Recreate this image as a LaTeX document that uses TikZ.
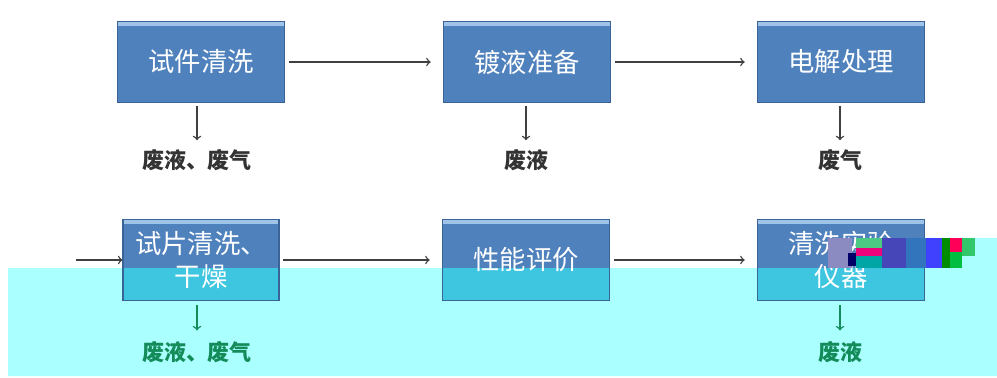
\documentclass[tikz,border=0pt]{standalone}
\usepackage{fontspec}
\newfontfamily\cjk{Noto Sans CJK SC}
\usetikzlibrary{positioning}

\definecolor{boxblue}{RGB}{79,129,189}
\definecolor{boxedge}{RGB}{58,100,151}
\definecolor{boxhigh}{RGB}{160,196,232}
\definecolor{bandcyan}{RGB}{170,255,255}
\definecolor{boxcyan}{RGB}{62,198,224}
\definecolor{wastegreen}{RGB}{20,140,90}
\definecolor{linegray}{RGB}{64,64,64}

\tikzset{
  stepbox/.style={draw=boxedge, fill=boxblue, text=white, line width=0.6pt,
    minimum width=3.34cm, minimum height=1.62cm, align=center,
    font=\cjk\fontsize{15}{19}\selectfont,
    path picture={\fill[boxhigh] (path picture bounding box.north west) rectangle ([yshift=-2.5pt]path picture bounding box.north east);}},
  lowbox/.style={stepbox,
    path picture={\fill[boxhigh] (path picture bounding box.north west) rectangle ([yshift=-2.5pt]path picture bounding box.north east);
      \fill[boxcyan] (path picture bounding box.south west) rectangle (path picture bounding box.east |- cut);}},
  waste/.style={font=\cjk\bfseries\fontsize{12.5}{15}\selectfont, text=black!80, inner sep=0pt},
  flow/.style={->, draw=linegray, line width=0.8pt}
}

\begin{document}
\begin{tikzpicture}[x=0.02cm, y=-0.02cm]
  \useasboundingbox (0,0) rectangle (997,378);
  % band over the lower row
  \fill[bandcyan] (8,268) -| (822,238) -| (997,376) -| cycle;
  \coordinate (cut) at (0,268);

  % upper row
  \node[stepbox] (t1) at (201,62) {试件清洗};
  \node[stepbox] (t2) at (527,62) {镀液准备};
  \node[stepbox] (t3) at (841,62) {电解处理};
  \node[waste] (w1) at (197,160) {废液、废气};
  \node[waste] (w2) at (526,160) {废液};
  \node[waste] (w3) at (840,160) {废气};

  % lower row
  \coordinate (in) at (74,260);
  \node[lowbox, minimum width=3.12cm] (b1) at (201,260) {试片清洗、\\干燥};
  \node[lowbox] (b2) at (526,260) {性能评价};
  \node[lowbox] (b3) at (841,260) {清洗实验\\仪器};
  \node[waste, text=wastegreen] (v1) at (197,352) {废液、废气};
  \node[waste, text=wastegreen] (v3) at (840,352) {废液};

  % damaged strip on the last box
  \foreach \xa/\ya/\xb/\yb/\col in {
      828/238/852/268/{blue!30!gray!70!white},
      848/253/856/266/{blue!40!black},
      856/238/882/248/{teal!60!green!70!white},
      856/248/882/256/{magenta!85!red},
      856/256/882/268/{teal!70!cyan},
      882/238/906/268/{blue!45!gray},
      906/238/926/268/{blue!35!teal!80!white},
      926/238/942/268/{blue!75!white},
      942/238/950/268/{green!55!black},
      950/238/962/252/{red!65!magenta},
      950/252/962/268/{green!50!teal},
      962/238/975/256/{teal!55!green!80!white},
      962/256/975/268/{bandcyan}}
    \fill[\col] (\xa,\ya) rectangle (\xb,\yb);

  % connectors
  \draw[flow, shorten <=2pt, shorten >=7pt] (t1) -- (t2);
  \draw[flow, shorten <=2pt, shorten >=7pt] (t2) -- (t3);
  \draw[flow, shorten <=1pt] (in) -- (b1);
  \draw[flow, shorten <=2pt, shorten >=7pt] (b1) -- (b2);
  \draw[flow, shorten <=2pt, shorten >=7pt] (b2) -- (b3);
  \draw[flow, shorten <=1.5pt, shorten >=5pt] (w1 |- t1.south) -- (w1);
  \draw[flow, shorten <=1.5pt, shorten >=5pt] (w2 |- t2.south) -- (w2);
  \draw[flow, shorten <=1.5pt, shorten >=5pt] (w3 |- t3.south) -- (w3);
  \draw[flow, draw=wastegreen, shorten <=2.5pt, shorten >=6pt] (v1 |- b1.south) -- (v1);
  \draw[flow, draw=wastegreen, shorten <=2.5pt, shorten >=6pt] (v3 |- b3.south) -- (v3);
\end{tikzpicture}
\end{document}
